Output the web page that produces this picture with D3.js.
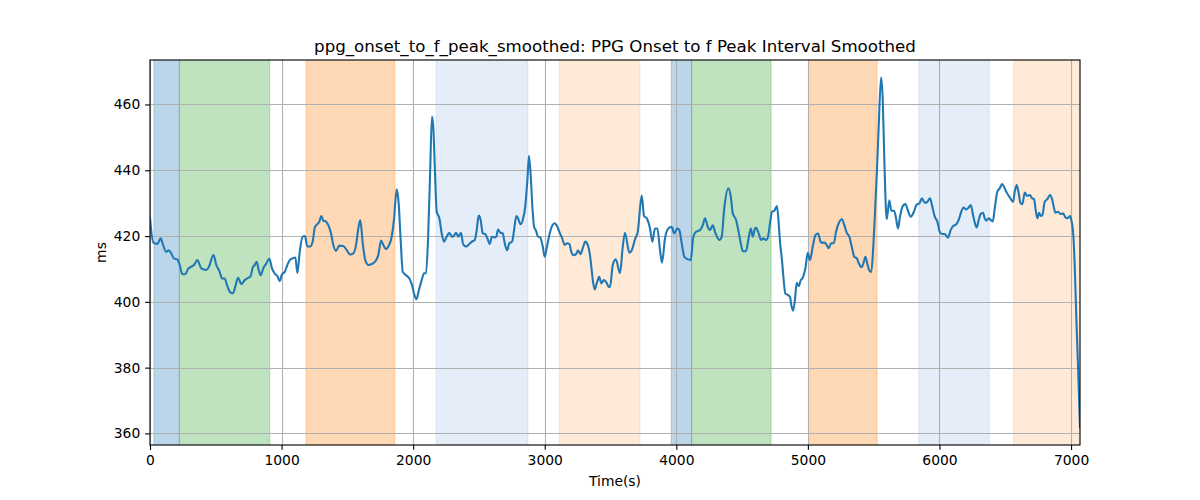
<!DOCTYPE html>
<html>
<head>
<meta charset="utf-8">
<script src="https://cdn.jsdelivr.net/npm/d3@7"></script>
<style>
  html, body { margin: 0; padding: 0; background: #fff; }
  svg { display: block; font-family: "DejaVu Sans", sans-serif; }
</style>
</head>
<body>
<svg id="chart" width="1200" height="500"></svg>
<script>
// ---- data ----
const times = [
  0, 25, 56, 81, 99, 124, 142, 162, 182, 208, 226, 246, 268, 289, 314, 334, 360, 390, 428, 448,
  482, 504, 530, 547, 568, 585, 606, 631, 648, 669, 694, 720, 745, 762, 783, 796, 811, 826, 841, 861,
  884, 907, 927, 948, 968, 986, 1003, 1024, 1044, 1062, 1082, 1105, 1120, 1138,
  1160, 1178, 1196, 1216, 1236, 1254, 1272, 1287, 1302, 1317, 1338, 1355, 1376, 1393, 1414, 1439,
  1469, 1495, 1520, 1545, 1566, 1583, 1598, 1617, 1636, 1662, 1685, 1710, 1735, 1756, 1773, 1794,
  1811, 1837, 1854, 1875, 1890, 1905, 1921, 1946, 1971, 1991, 2006, 2024, 2044, 2065, 2083, 2098,
  2113, 2128, 2143, 2153, 2166, 2179, 2199, 2217, 2234, 2255, 2275, 2295, 2310, 2326, 2343,
  2364, 2379, 2402, 2427, 2447, 2468, 2483, 2498, 2513, 2529, 2548, 2564, 2582, 2599, 2620, 2632,
  2645, 2663, 2681, 2696, 2714, 2731, 2752, 2767, 2784, 2797, 2815, 2833, 2853, 2868, 2880, 2894,
  2906, 2919, 2934, 2949, 2966, 2985, 3000, 3017, 3035, 3055, 3076, 3096, 3116, 3131, 3152, 3169,
  3187, 3202, 3220, 3238, 3253, 3271, 3289, 3308, 3327, 3342, 3354, 3367, 3380, 3395, 3414, 3430,
  3448, 3466, 3486,
  3496, 3517, 3540, 3572, 3593, 3610, 3643, 3661, 3686, 3707, 3737, 3755, 3775, 3800, 3818, 3838,
  3856, 3876, 3891, 3914, 3939, 3965, 3983, 4008, 4023, 4041, 4061, 4091, 4110, 4129, 4150, 4180,
  4201, 4218, 4239, 4256, 4277, 4294, 4327, 4345, 4363, 4395, 4414, 4429, 4454, 4471, 4490, 4505,
  4530, 4547, 4566, 4581, 4598,
  4606, 4626, 4644, 4661, 4682, 4697, 4712, 4727, 4745, 4765, 4778, 4788, 4803, 4816, 4828, 4847,
  4864, 4874, 4887, 4900, 4915, 4930, 4946, 4961, 4981, 4999, 5016, 5037, 5057, 5077, 5100, 5125,
  5138, 5159, 5176, 5197, 5214, 5234, 5259, 5277, 5295, 5315, 5333, 5353, 5372, 5387, 5407, 5422,
  5437, 5452, 5467, 5482, 5497, 5513, 5526, 5538, 5556, 5569, 5581, 5599, 5619, 5634, 5655, 5670,
  5685, 5700, 5721, 5741, 5759,
  5781, 5806, 5824, 5850, 5867, 5888, 5908, 5928, 5943, 5964, 5984, 6002, 6019, 6040, 6065, 6085,
  6103, 6128, 6146, 6166, 6181, 6204, 6222, 6238, 6255, 6268, 6283, 6298, 6313, 6331, 6344, 6356,
  6374, 6389, 6405, 6420, 6440, 6458, 6476, 6496, 6511, 6534, 6559, 6572, 6587, 6602, 6615, 6630,
  6648, 6666, 6686, 6704, 6719, 6732, 6744, 6757, 6770, 6782, 6800, 6820, 6840, 6856, 6871, 6881,
  6901, 6922, 6939, 6957, 6972, 6992, 7002, 7018, 7028, 7040, 7053, 7068
];
const valuesMs = [
  425.5, 418.0, 417.6, 419.3, 417.3, 415.2, 415.7, 414.7, 413.2, 412.9, 411.2, 408.4, 408.4, 410.0, 410.7, 411.2, 412.7, 410.2, 409.7, 410.7,
  414.2, 411.2, 409.1, 407.1, 407.1, 405.1, 403.1, 402.6, 404.6, 407.3, 405.4, 406.6, 407.3, 407.6, 410.7, 411.2, 412.2, 409.7, 408.1, 410.2,
  411.7, 413.2, 410.2, 408.6, 407.8, 406.3, 408.4, 409.1, 411.2, 412.7, 413.2, 413.5, 408.8, 415.2,
  419.8, 420.0, 416.8, 416.8, 418.3, 422.8, 423.6, 424.4, 426.1, 424.7, 424.4, 423.3, 420.8, 417.3, 415.5, 417.1,
  417.0, 415.7, 414.4, 414.7, 417.3, 422.3, 424.9, 417.8, 412.7, 411.2, 411.5, 412.2, 414.2, 418.6, 417.3, 416.0,
  416.8, 419.8, 424.9, 434.2, 429.9, 418.8, 409.1, 408.1, 407.1, 405.1, 402.6, 400.8, 403.6, 406.6, 408.7, 408.7,
  418.8, 438.0, 456.3, 453.2, 439.1, 427.4, 425.4, 420.8, 418.3, 419.8, 421.0, 419.8, 420.1, 421.0, 419.8,
  421.0, 417.6, 416.8, 417.6, 418.3, 418.8, 421.8, 426.2, 424.9, 420.8, 420.6, 419.3, 417.6, 419.8, 419.6, 419.8,
  422.0, 421.0, 420.8, 417.8, 415.7, 417.8, 418.3, 421.8, 426.1, 425.4, 423.6, 424.9, 429.4, 437.0, 444.4, 438.0,
  428.9, 422.8, 421.6, 419.8, 419.6, 416.8, 413.7, 416.8, 420.3, 423.0, 423.9, 422.8, 420.8, 419.5, 417.3, 417.8,
  417.6, 415.2, 414.2, 414.5, 415.7, 414.5, 416.3, 418.3, 417.3, 414.7, 410.7, 406.1, 403.8, 405.6, 407.6, 405.6,
  406.6, 406.1, 404.6,
  404.5, 411.2, 412.9, 408.7, 416.8, 421.0, 414.9, 415.7, 419.0, 421.3, 432.3, 426.1, 425.4, 422.3, 418.3, 422.3,
  422.3, 415.7, 411.9, 419.3, 422.3, 422.8, 420.8, 422.3, 421.8, 417.8, 413.7, 412.9, 412.7, 419.8, 421.3, 421.8,
  423.3, 425.4, 422.8, 421.8, 423.3, 421.3, 418.8, 419.8, 427.9, 434.5, 432.0, 426.9, 424.9, 421.8, 417.8, 415.4,
  415.4, 418.8, 422.3, 419.8, 422.3,
  422.5, 420.8, 418.8, 419.3, 418.8, 419.8, 423.9, 427.4, 427.7, 429.1, 423.9, 418.3, 412.7, 406.6, 402.6, 402.1,
  401.5, 399.0, 397.3, 400.0, 405.8, 404.8, 406.6, 407.3, 410.2, 414.9, 412.7, 416.8, 420.3, 420.8, 418.0, 418.0,
  417.6, 416.3, 417.8, 417.8, 421.3, 423.9, 425.1, 423.3, 421.0, 419.8, 416.8, 413.7, 413.2, 411.7, 410.5, 411.7,
  413.7, 411.5, 409.5, 409.1, 416.8, 429.9, 441.1, 453.2, 468.2, 461.3, 443.1, 425.1, 430.9, 427.7, 427.7, 425.4,
  422.3, 425.9, 429.1, 429.7, 427.9,
  425.9, 427.4, 429.4, 430.1, 431.5, 430.1, 430.4, 431.5, 429.4, 425.9, 424.4, 421.3, 420.6, 420.6, 419.5, 421.8,
  423.0, 423.6, 424.9, 427.4, 428.7, 428.1, 428.7, 429.4, 426.4, 424.1, 422.6, 424.9, 426.7, 427.1, 425.4, 424.7,
  425.4, 424.9, 424.4, 428.4, 433.5, 434.5, 435.8, 434.5, 433.2, 431.8, 430.4, 433.5, 435.5, 433.0, 430.1, 429.7,
  433.2, 432.2, 432.5, 431.5, 431.2, 427.7, 425.4, 427.1, 426.1, 426.4, 430.4, 431.2, 432.5, 431.2, 428.4, 427.1,
  427.4, 426.7, 426.9, 425.7, 425.4, 426.1, 424.9, 419.8, 410.7, 395.5, 380.3, 361.8
];
// shaded intervals (start, end in seconds) and their kind
const bandStart = [30, 223, 1186, 2175, 3110, 3962, 4116, 5014, 5843, 6563];
const bandEnd   = [223, 910, 1861, 2872, 3724, 4116, 4720, 5526, 6378, 7100];
const bandKind  = ["k1", "k2", "k3", "k4", "k5", "k1", "k2", "k3", "k4", "k5"];
const xTicks = [0, 1000, 2000, 3000, 4000, 5000, 6000, 7000];
const yTicks = [360, 380, 400, 420, 440, 460];
const titleText = "ppg_onset_to_f_peak_smoothed: PPG Onset to f Peak Interval Smoothed";
const xLabel = "Time(s)";
const yLabel = "ms";

// ---- styles ----
const kindStyle = {
  k1: { color: "#1f77b4", alpha: 0.3 },
  k2: { color: "#2ca02c", alpha: 0.3 },
  k3: { color: "#ff7f0e", alpha: 0.3 },
  k4: { color: "#6f9fd8", alpha: 0.19 },
  k5: { color: "#ff7f0e", alpha: 0.16 }
};
const PT = 100 / 72;

const svg = d3.select("#chart");
const margin = { left: 150, right: 120, top: 60, bottom: 55 };
const W = 1200, H = 500;
const iw = W - margin.left - margin.right;
const ih = H - margin.top - margin.bottom;

const points = times.map((t, i) => ({ t, v: valuesMs[i] }));
const [vmin, vmax] = d3.extent(valuesMs);
const pad = (vmax - vmin) * 0.05;

const x = d3.scaleLinear().domain([0, d3.max(times)]).range([0, iw]);
const y = d3.scaleLinear().domain([vmin - pad, vmax + pad]).range([ih, 0]);

svg.append("defs").append("clipPath").attr("id", "clip")
  .append("rect").attr("width", iw).attr("height", ih);

const g = svg.append("g").attr("transform", `translate(${margin.left},${margin.top})`);
const plot = g.append("g").attr("clip-path", "url(#clip)");

// bands
const bands = bandStart.map((s, i) => ({ s, e: bandEnd[i], k: bandKind[i] }));
plot.selectAll("rect.band").data(bands).enter().append("rect")
  .attr("class", "band")
  .attr("x", d => x(d.s))
  .attr("y", -2)
  .attr("width", d => x(d.e) - x(d.s))
  .attr("height", ih + 4)
  .attr("fill", d => kindStyle[d.k].color)
  .attr("fill-opacity", d => kindStyle[d.k].alpha)
  .attr("stroke", d => kindStyle[d.k].color)
  .attr("stroke-opacity", d => kindStyle[d.k].alpha)
  .attr("stroke-width", 1);

// grid
const grid = plot.append("g");
grid.selectAll("line.gx").data(xTicks).enter().append("line")
  .attr("x1", d => Math.round(x(d)) + 0.5).attr("x2", d => Math.round(x(d)) + 0.5)
  .attr("y1", 0).attr("y2", ih)
  .attr("stroke", "#b0b0b0").attr("stroke-width", 0.8 * PT);
grid.selectAll("line.gy").data(yTicks).enter().append("line")
  .attr("y1", d => Math.round(y(d)) + 0.5).attr("y2", d => Math.round(y(d)) + 0.5)
  .attr("x1", 0).attr("x2", iw)
  .attr("stroke", "#b0b0b0").attr("stroke-width", 0.8 * PT);

// line
const line = d3.line().x(d => x(d.t)).y(d => y(d.v)).curve(d3.curveMonotoneX);
plot.append("path").datum(points)
  .attr("d", line)
  .attr("fill", "none")
  .attr("stroke", "#1f77b4")
  .attr("stroke-width", 1.5 * PT)
  .attr("stroke-linejoin", "round")
  .attr("stroke-linecap", "square");

// axes
const xAxis = d3.axisBottom(x).tickValues(xTicks).tickFormat(d3.format("d")).tickSizeOuter(0).tickSize(3.5 * PT).tickPadding(3.5 * PT);
const yAxis = d3.axisLeft(y).tickValues(yTicks).tickFormat(d3.format("d")).tickSizeOuter(0).tickSize(3.5 * PT).tickPadding(3.5 * PT);

const gx = g.append("g").attr("transform", `translate(0,${ih})`).call(xAxis);
const gy = g.append("g").call(yAxis);
[gx, gy].forEach(a => {
  a.select(".domain").remove();
  a.selectAll("text").attr("font-size", (10 * PT) + "px").attr("fill", "#000").attr("font-family", "DejaVu Sans, sans-serif");
  a.selectAll("line").attr("stroke", "#000").attr("stroke-width", 0.8 * PT);
});

// frame
g.append("rect").attr("x", 0).attr("y", 0).attr("width", iw).attr("height", ih)
  .attr("fill", "none").attr("stroke", "#000").attr("stroke-width", 0.8 * PT);

// labels
svg.append("text").attr("x", margin.left + iw / 2).attr("y", 52)
  .attr("text-anchor", "middle").attr("font-size", (12 * PT) + "px").attr("fill", "#000")
  .text(titleText);
svg.append("text").attr("x", margin.left + iw / 2).attr("y", 486)
  .attr("text-anchor", "middle").attr("font-size", (10 * PT) + "px").attr("fill", "#000")
  .text(xLabel);
svg.append("text")
  .attr("transform", `translate(106,${margin.top + ih / 2}) rotate(-90)`)
  .attr("text-anchor", "middle").attr("font-size", (10 * PT) + "px").attr("fill", "#000")
  .text(yLabel);
</script>
</body>
</html>
